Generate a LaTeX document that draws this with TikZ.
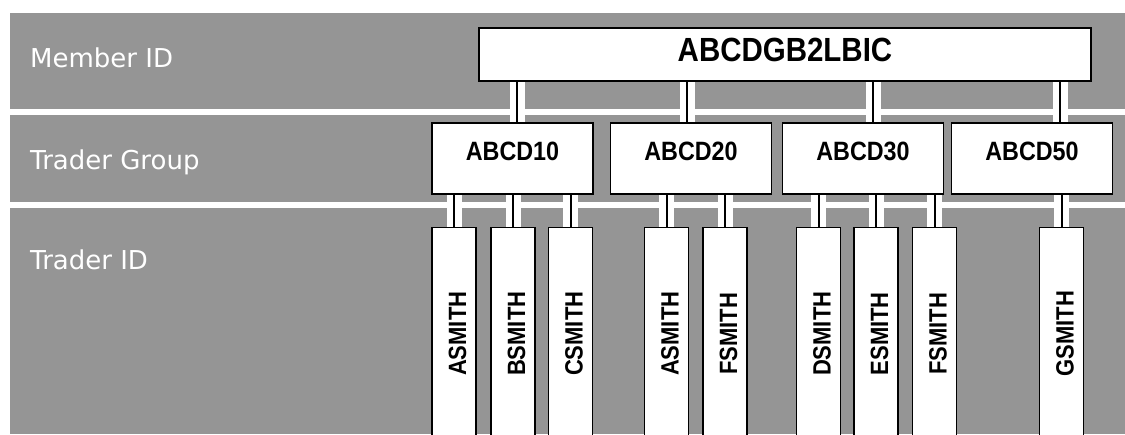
\documentclass[tikz,border=0pt]{standalone}
\usepackage{fontspec}
\usetikzlibrary{positioning,calc}
\newfontfamily\lblfont{DejaVu Sans}
\newfontfamily\boxfont{Liberation Sans Bold}[FakeStretch=0.88]
\definecolor{bandgray}{RGB}{149,149,149}
\pgfdeclarelayer{band}
\pgfdeclarelayer{wire}
\pgfsetlayers{band,wire,main}
\newcommand{\vtxt}[1]{\kern7pt\rotatebox{90}{#1}}

\begin{document}
\begin{tikzpicture}[x=1pt, y=-1pt,
                    box/.style={draw, fill=white, line width=1.5pt, inner sep=0pt},
                    grp/.style={box, minimum width=161pt, minimum height=71pt, text depth=14pt, font=\boxfont\fontsize{26.5}{30}\selectfont},
                    trd/.style={box, anchor=north, minimum width=44pt, minimum height=212pt, font=\boxfont\fontsize{25}{30}\selectfont},
                    lbl/.style={text=white, inner sep=0pt, anchor=base west, font=\lblfont\fontsize{26}{30}\selectfont},
                    link/.style={draw=black, line width=2pt, preaction={draw=white, line width=15pt}}]
                    \useasboundingbox (0,0) rectangle (1125,435);
                    % grey bands
                    \begin{pgfonlayer}{band}
                        \fill[bandgray] (10,13) rectangle (1125,109);
                        \fill[bandgray] (10,115) rectangle (1125,202);
                        \fill[bandgray] (10,208) rectangle (1125,434);
                    \end{pgfonlayer}
                    \node[lbl] (lblmem) at (30,68) {Member ID};
                    \node[lbl] (lblgrp) at (30,170) {Trader Group};
                    \node[lbl] (lbltrd) at (30,270) {Trader ID};
                    % member, groups, traders
                    \node[box, minimum width=612pt, minimum height=53pt, text depth=9pt, font=\boxfont\fontsize{33.5}{40}\selectfont] (mem) at (785,54.5) {ABCDGB2LBIC};
                    \foreach \n/\x/\t in {g10/512.5/ABCD10, g20/691/ABCD20, g30/863/ABCD30, g50/1032/ABCD50}{
                        \node[grp] (\n) at (\x,158.5) {\t};
                    }
                    \foreach \n/\x/\t in {t1/454/ASMITH, t2/513/BSMITH, t3/570.5/CSMITH, t4/666.5/ASMITH, t5/725/FSMITH,
                                          t6/818.5/DSMITH, t7/876/ESMITH, t8/934.5/FSMITH, t9/1061.5/GSMITH}{
                        \node[trd] (\n) at (\x,227) {\vtxt{\t}};
                    }
                    % connectors
                    \begin{pgfonlayer}{wire}
                        \foreach \g/\dx in {g10/4.5, g20/-4, g30/10, g50/28}{
                            \draw[link] ($(\g.north)+(\dx,0)$) -- ($(\g.north |- mem.south)+(\dx,0)$);
                        }
                        \foreach \t/\g in {t1/g10, t2/g10, t3/g10, t4/g20, t5/g20, t6/g30, t7/g30, t8/g30, t9/g50}{
                            \draw[link] (\t.north) -- (\t.north |- \g.south);
                        }
                    \end{pgfonlayer}
                \end{tikzpicture}
\end{document}
